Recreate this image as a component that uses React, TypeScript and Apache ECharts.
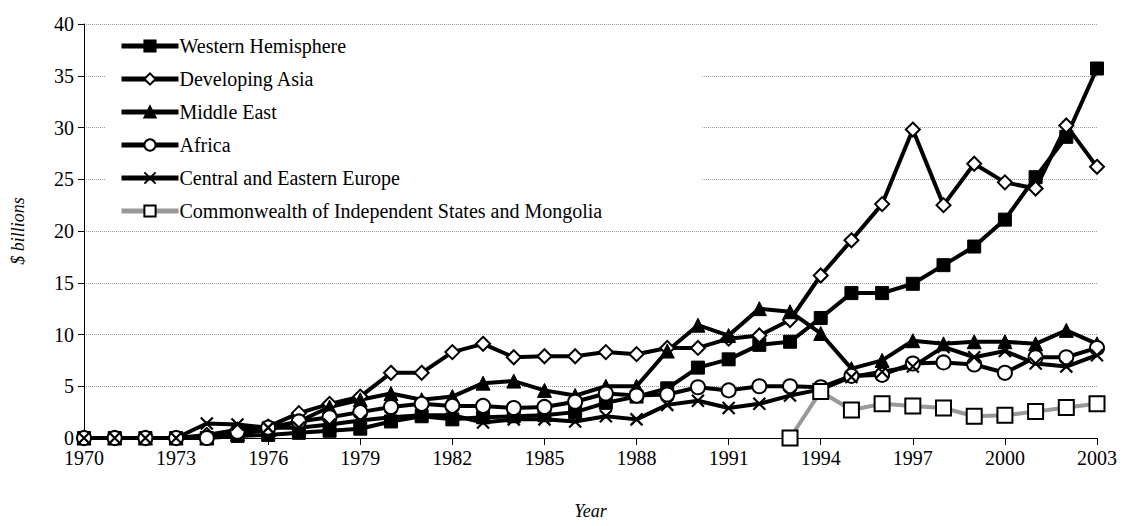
import React, { useEffect, useRef } from "react";
import * as echarts from "echarts";

const years = Array.from({ length: 34 }, (_, i) => String(1970 + i));

const westernHemisphere = [0, 0, 0, 0, 0, 0.2, 0.3, 0.5, 0.7, 0.9, 1.6, 2.1, 1.8, 2.0, 2.1, 2.2, 2.5, 3.4, 4.0, 4.8, 6.8, 7.6, 9.0, 9.3, 11.6, 14.0, 14.0, 14.9, 16.7, 18.5, 21.1, 25.2, 29.1, 35.7];
const developingAsia = [0, 0, 0, 0, 0.3, 0.8, 1.1, 2.4, 3.3, 4.0, 6.3, 6.3, 8.3, 9.1, 7.8, 7.9, 7.9, 8.3, 8.1, 8.7, 8.7, 9.6, 9.9, 11.4, 15.7, 19.1, 22.6, 29.8, 22.5, 26.5, 24.7, 24.1, 30.2, 26.2];
const middleEast = [0, 0, 0, 0, 0, 0.4, 0.8, 1.6, 3.0, 3.7, 4.3, 3.7, 4.0, 5.3, 5.5, 4.6, 4.1, 5.0, 5.0, 8.4, 10.9, 9.9, 12.5, 12.2, 10.1, 6.7, 7.5, 9.4, 9.1, 9.3, 9.3, 9.1, 10.4, 9.1];
const africa = [0, 0, 0, 0, 0, 0.6, 1.0, 1.6, 2.0, 2.5, 3.0, 3.3, 3.1, 3.1, 2.9, 3.0, 3.5, 4.3, 4.1, 4.2, 4.9, 4.6, 5.0, 5.0, 4.9, 6.0, 6.1, 7.2, 7.3, 7.1, 6.3, 7.8, 7.8, 8.7];
const centralEasternEurope = [0, 0, 0, 0, 1.4, 1.3, 1.0, 1.0, 1.3, 1.7, 2.0, 2.2, 2.2, 1.5, 1.8, 1.8, 1.6, 2.1, 1.8, 3.2, 3.6, 2.9, 3.3, 4.1, 4.7, 5.9, 6.4, 6.9, 8.8, 7.8, 8.4, 7.2, 6.9, 8.0];
const cisMongolia = [null, null, null, null, null, null, null, null, null, null, null, null, null, null, null, null, null, null, null, null, null, null, null, 0, 4.5, 2.7, 3.3, 3.1, 2.9, 2.1, 2.2, 2.55, 2.95, 3.3];

const seriesNames = [
  "Western Hemisphere",
  "Developing Asia",
  "Middle East",
  "Africa",
  "Central and Eastern Europe",
  "Commonwealth of Independent States and Mongolia",
];

const FONT = "Times New Roman, Liberation Serif, DejaVu Serif, serif";
const XPATH = "path://M0,0L10,10M10,0L0,10";

export default function App() {
  const ref = useRef<HTMLDivElement>(null);
  useEffect(() => {
    if (!ref.current) return;
    const chart = echarts.init(ref.current, null, { renderer: "svg" });
    const mk = (
      name: string,
      data: (number | null)[],
      symbol: string,
      size: number,
      fill: string,
      lineColor: string,
      border: string,
      borderWidth: number
    ) => ({
      name,
      type: "line",
      data,
      symbol,
      symbolSize: size,
      showAllSymbol: true,
      connectNulls: false,
      lineStyle: { color: lineColor, width: 4 },
      itemStyle: { color: fill, borderColor: border, borderWidth, opacity: 1 },
      emphasis: { disabled: true },
    });
    chart.setOption({
      animation: false,
      backgroundColor: "#fff",
      textStyle: { fontFamily: FONT },
      grid: { left: 84, right: 32, top: 24, bottom: 88, containLabel: false },
      legend: {
        orient: "vertical",
        left: 105,
        top: 32,
        padding: [4, 100, 4, 14],
        backgroundColor: "#fff",
        itemWidth: 57,
        itemHeight: 14,
        itemGap: 13,
        lineStyle: { width: 5 },
        textStyle: { fontFamily: FONT, fontSize: 20, color: "#000", padding: [0, 0, 0, -4] },
        data: seriesNames,
      },
      xAxis: {
        type: "category",
        data: years,
        boundaryGap: false,
        name: "Year",
        nameLocation: "middle",
        nameGap: 64,
        nameTextStyle: { fontFamily: FONT, fontSize: 18, fontStyle: "italic", color: "#000" },
        axisLine: { lineStyle: { color: "#000", width: 1 } },
        axisTick: { show: true, interval: 2, length: 7, lineStyle: { color: "#000" } },
        axisLabel: { interval: 2, fontFamily: FONT, fontSize: 20, color: "#000", margin: 10 },
        splitLine: { show: false },
      },
      yAxis: {
        type: "value",
        min: 0,
        max: 40,
        interval: 5,
        name: "$ billions",
        nameLocation: "middle",
        nameGap: 57,
        nameRotate: 90,
        nameTextStyle: { fontFamily: FONT, fontSize: 18, fontStyle: "italic", color: "#000" },
        axisLine: { show: true, lineStyle: { color: "#000", width: 1 } },
        axisTick: { show: true, length: 6, lineStyle: { color: "#000" } },
        axisLabel: { fontFamily: FONT, fontSize: 20, color: "#000", margin: 10 },
        splitLine: { show: true, lineStyle: { color: "#999", type: "dotted", width: 1 } },
      },
      series: [
        mk(seriesNames[0], westernHemisphere, "rect", 13, "#000", "#000", "#000", 1),
        mk(seriesNames[1], developingAsia, "diamond", 14, "#fff", "#000", "#000", 2),
        mk(seriesNames[2], middleEast, "triangle", 14, "#000", "#000", "#000", 1),
        mk(seriesNames[3], africa, "circle", 14, "#fff", "#000", "#000", 2),
        mk(seriesNames[4], centralEasternEurope, XPATH, 12, "none", "#000", "#000", 2.2),
        mk(seriesNames[5], cisMongolia, "rect", 15, "#fff", "#999", "#000", 2),
      ],
    });
    return () => chart.dispose();
  }, []);
  return (
    <div
      ref={ref}
      style={{ position: "fixed", left: 0, top: 0, width: 1129, height: 526 }}
    />
  );
}
